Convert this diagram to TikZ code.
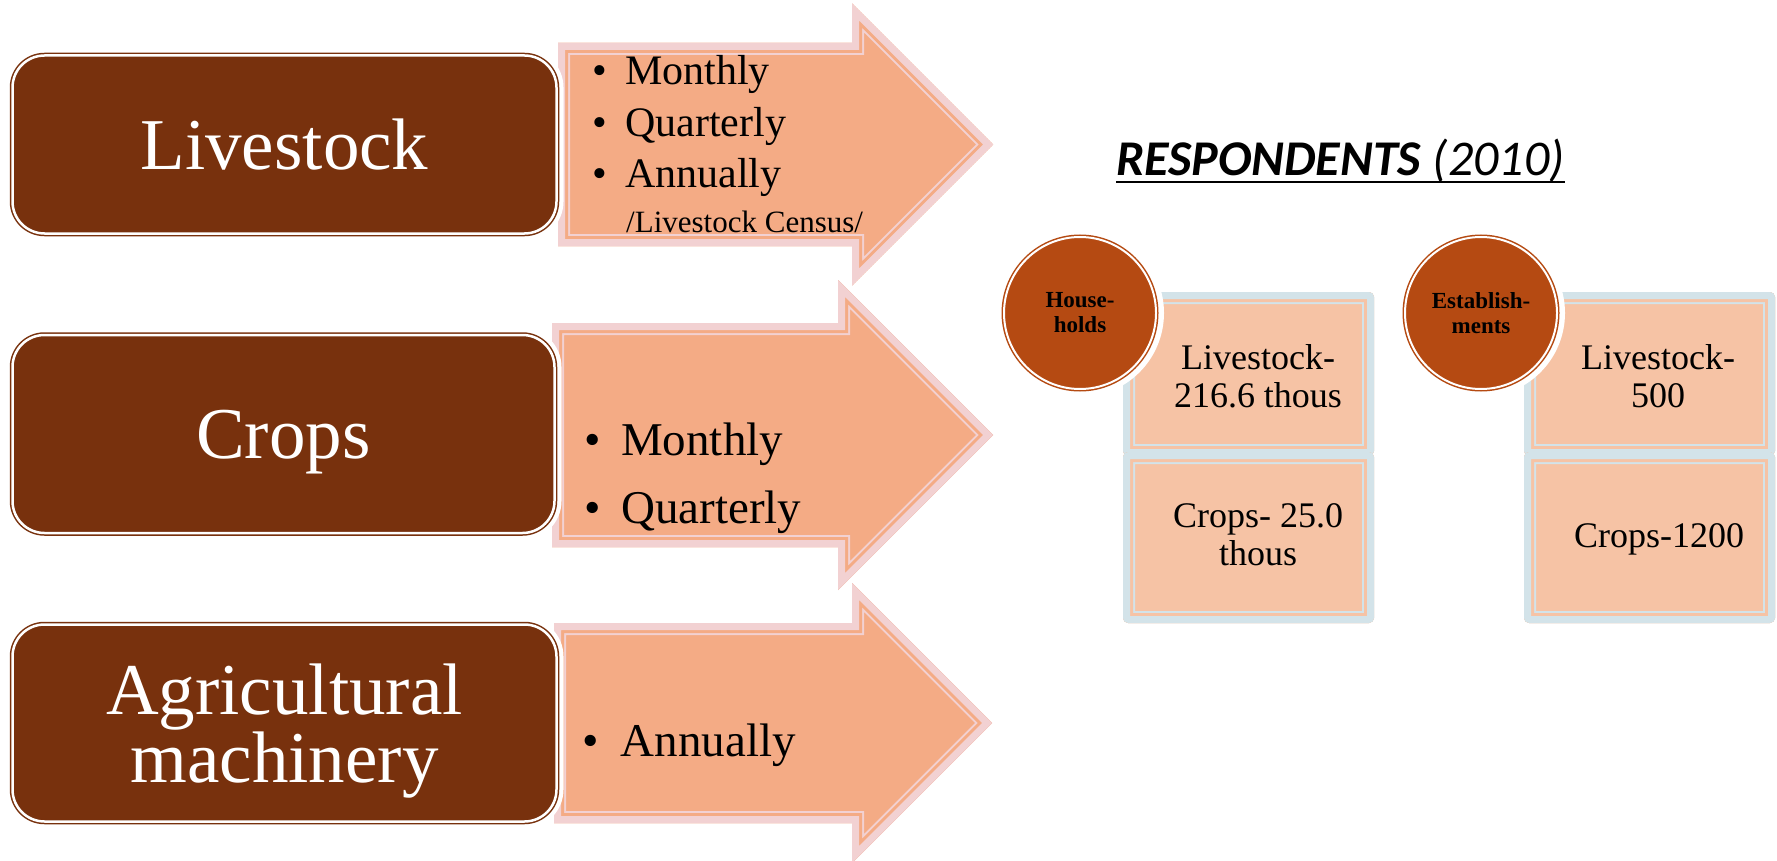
\documentclass[tikz,border=0pt]{standalone}
\usepackage{fontspec}
\setmainfont{Liberation Serif}
\newfontfamily\titlefont{Carlito}
\usepackage{tikz}

\definecolor{boxbrown}{HTML}{78310D}
\definecolor{arrowfill}{HTML}{F4AB85}
\definecolor{arrowband}{HTML}{F2D1D2}
\definecolor{circbrown}{HTML}{B54A12}
\definecolor{rectfill}{HTML}{F6C3A5}
\definecolor{rectband}{HTML}{D3E3E9}

\newcommand\itm[2][32pt]{\makebox[#1][l]{\textbullet}#2}
\newcommand\bandedpath[5][]{%
	\begin{scope}[#1]
		\clip #2;
		\fill[#3] #2;
		\draw[#5, line width=24pt] #2;
		\draw[#3, line width=20pt] #2;
		\draw[#4, line width=14pt] #2;
	\end{scope}}

\begin{document}
\begin{tikzpicture}[x=1pt, y=-1pt,
	catbox/.style={rounded corners=32pt, fill=boxbrown, draw=boxbrown, double=white, double distance=2.5pt, line width=1.5pt, preaction={draw=white, line width=14pt}, inner sep=0pt, text=white, align=center, text depth=0pt, font=\fontsize{73}{66}\selectfont},
	bul/.style={anchor=base west, inner sep=0pt},
	circ/.style={circle, minimum size=152pt, inner sep=0pt, fill=circbrown, draw=circbrown, double=white, double distance=2pt, line width=1.5pt, preaction={draw=white, line width=16pt}, align=center, font=\bfseries\fontsize{23}{25}\selectfont},
	celltext/.style={inner sep=0pt, align=center, text depth=0pt, font=\fontsize{36}{38}\selectfont}]
	\useasboundingbox (0,0) rectangle (1777,861);

	% arrows
	\foreach \l/\c/\hb/\hh/\hx in {558/144.5/101.5/141/852, 552/435/112/155/838, 554/723/100/140/852}
	{
		\bandedpath{(\l,\c-\hb) -- (\hx,\c-\hb) -- (\hx,\c-\hh) -- (\hx+\hh,\c) -- (\hx,\c+\hh) -- (\hx,\c+\hb) -- (\l,\c+\hb) -- cycle}{arrowfill}{arrowband}{arrowband}
	}

	% categories
	\node[catbox, minimum width=544pt, minimum height=178pt] (livestock) at (284.5,144.5) {Livestock};
	\node[catbox, minimum width=542pt, minimum height=198pt] (crops) at (283.5,434) {Crops};
	\node[catbox, minimum width=544pt, minimum height=197pt] (machinery) at (284.5,723) {Agricultural\\machinery};

	% periodicity
	\foreach \w [count=\i] in {Monthly,Quarterly,Annually}
		\node[bul, font=\fontsize{42}{50}\selectfont] (live-\i) at (592,33.5+51.5*\i) {\itm[33pt]{\w}};
	\node[bul, font=\fontsize{31}{36}\selectfont] (live-census) at (626,233) {/Livestock Census/};
	\node[bul, font=\fontsize{47}{56}\selectfont] (crop-1) at (584,455) {\itm[37pt]{Monthly}};
	\node[bul, font=\fontsize{47}{56}\selectfont] (crop-2) at (584,523) {\itm[37pt]{Quarterly}};
	\node[bul, font=\fontsize{47}{56}\selectfont] (mach-1) at (582,756) {\itm[38.5pt]{Annually}};

	% respondents
	\node[anchor=base west, inner sep=0pt, font=\titlefont\fontsize{50}{52}\selectfont] (title) at (1116,176) {\textbf{\textit{RESPONDENTS}} \textit{(2010)}};
	\draw[line width=2.5pt] ([yshift=-6pt]title.base west) -- ([yshift=-6pt]title.base east);

	\foreach \x in {1123,1524}
		\foreach \ya/\yb in {292/456, 452/623}
			\bandedpath[rounded corners=5pt]{(\x,\ya) rectangle (\x+251,\yb)}{rectfill}{rectband}{rectband};

	\node[circ] (households) at (1080,313) {House-\\holds};
	\node[circ] (establishments) at (1481,313) {Establish-\\ments};

	\node[celltext] (hh-live) at (1258,376) {Livestock-\\216.6 thous};
	\node[celltext] (hh-crop) at (1258,535) {Crops- 25.0\\thous};
	\node[celltext] (est-live) at (1658,376) {Livestock-\\500};
	\node[celltext] (est-crop) at (1659,536) {Crops-1200};
\end{tikzpicture}
\end{document}
